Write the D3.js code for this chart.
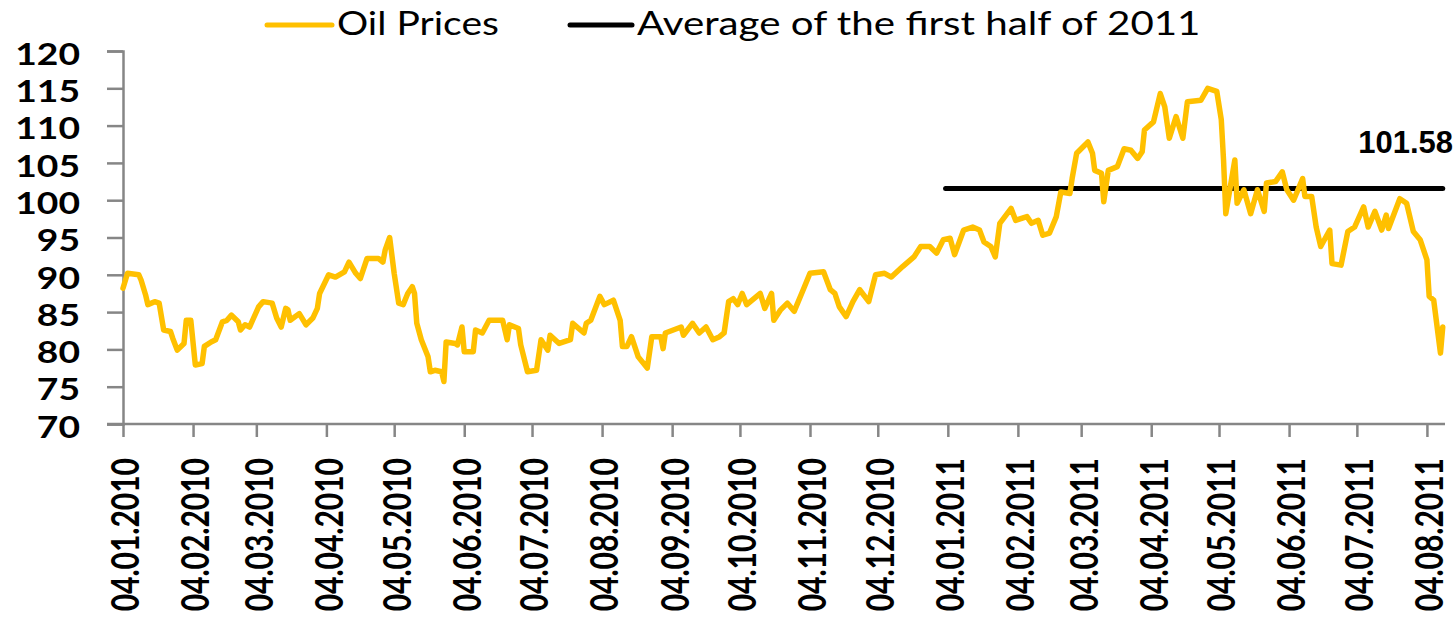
<!DOCTYPE html>
<html>
<head>
<meta charset="utf-8">
<script src="https://cdn.jsdelivr.net/npm/d3@7"></script>
<style>
body { margin: 0; background: #fff; }
</style>
</head>
<body>
<div class="chart"></div>
<script>
// daily oil prices
var dates = [
  "2010-01-04","2010-01-06","2010-01-11","2010-01-12","2010-01-14","2010-01-15","2010-01-18","2010-01-20",
  "2010-01-22","2010-01-25","2010-01-26","2010-01-28","2010-01-31","2010-02-01","2010-02-03","2010-02-05",
  "2010-02-08","2010-02-09","2010-02-12","2010-02-14","2010-02-17","2010-02-19","2010-02-21","2010-02-24",
  "2010-02-25","2010-02-27","2010-03-01","2010-03-05","2010-03-07","2010-03-11","2010-03-13","2010-03-15",
  "2010-03-17","2010-03-18","2010-03-19","2010-03-23","2010-03-26","2010-03-29","2010-03-31","2010-04-01",
  "2010-04-05","2010-04-08","2010-04-12","2010-04-14","2010-04-17","2010-04-19","2010-04-22","2010-04-27",
  "2010-04-29","2010-04-30","2010-05-02","2010-05-04","2010-05-06","2010-05-08","2010-05-10","2010-05-12",
  "2010-05-13","2010-05-14","2010-05-16","2010-05-19","2010-05-20","2010-05-22","2010-05-25","2010-05-26",
  "2010-05-27","2010-05-31","2010-06-01","2010-06-03","2010-06-04","2010-06-08","2010-06-09","2010-06-12",
  "2010-06-15","2010-06-21","2010-06-23","2010-06-24","2010-06-28","2010-06-29","2010-07-02","2010-07-06",
  "2010-07-08","2010-07-11","2010-07-12","2010-07-16","2010-07-21","2010-07-22","2010-07-27","2010-07-28",
  "2010-07-30","2010-08-03","2010-08-05","2010-08-09","2010-08-12","2010-08-13","2010-08-15","2010-08-17",
  "2010-08-20","2010-08-24","2010-08-26","2010-08-30","2010-08-31","2010-09-01","2010-09-08","2010-09-09",
  "2010-09-13","2010-09-16","2010-09-19","2010-09-22","2010-09-25","2010-09-27","2010-09-29","2010-10-01",
  "2010-10-03","2010-10-05","2010-10-07","2010-10-13","2010-10-15","2010-10-18","2010-10-19","2010-10-22",
  "2010-10-25","2010-10-28","2010-11-01","2010-11-04","2010-11-10","2010-11-13","2010-11-15","2010-11-17",
  "2010-11-20","2010-11-23","2010-11-26","2010-11-30","2010-12-03","2010-12-07","2010-12-10","2010-12-15",
  "2010-12-20","2010-12-23","2010-12-27","2010-12-30","2011-01-02","2011-01-05","2011-01-07","2011-01-11",
  "2011-01-15","2011-01-18","2011-01-20","2011-01-23","2011-01-25","2011-01-27","2011-02-01","2011-02-03",
  "2011-02-08","2011-02-10","2011-02-13","2011-02-15","2011-02-18","2011-02-21","2011-02-23","2011-02-27",
  "2011-02-28","2011-03-02","2011-03-07","2011-03-09","2011-03-10","2011-03-13","2011-03-14","2011-03-16",
  "2011-03-20","2011-03-23","2011-03-26","2011-03-29","2011-03-31","2011-04-01","2011-04-05","2011-04-08",
  "2011-04-10","2011-04-12","2011-04-15","2011-04-18","2011-04-20","2011-04-26","2011-04-29","2011-05-03",
  "2011-05-05","2011-05-06","2011-05-07","2011-05-09","2011-05-11","2011-05-12","2011-05-15","2011-05-18",
  "2011-05-21","2011-05-24","2011-05-25","2011-05-29","2011-06-01","2011-06-03","2011-06-06","2011-06-10",
  "2011-06-11","2011-06-14","2011-06-16","2011-06-18","2011-06-22","2011-06-23","2011-06-27","2011-06-30",
  "2011-07-03","2011-07-07","2011-07-09","2011-07-12","2011-07-15","2011-07-17","2011-07-18","2011-07-23",
  "2011-07-26","2011-07-29","2011-08-01","2011-08-04","2011-08-05","2011-08-07","2011-08-10","2011-08-11"
];
var prices = [
  88.2, 90.2, 90.0, 89.3, 87.3, 86.0, 86.4, 86.2,
  82.6, 82.4, 81.5, 79.9, 80.8, 83.9, 83.9, 77.9,
  78.1, 80.4, 81.0, 81.3, 83.7, 83.9, 84.6, 83.7,
  82.6, 83.3, 83.0, 85.7, 86.4, 86.2, 84.2, 83.0,
  85.5, 85.3, 83.9, 84.8, 83.3, 84.2, 85.5, 87.5,
  90.0, 89.7, 90.4, 91.7, 90.2, 89.5, 92.2, 92.2,
  91.7, 93.3, 95.0, 90.2, 86.2, 86.0, 87.5, 88.4,
  87.5, 83.5, 81.3, 79.0, 77.0, 77.2, 77.0, 75.7,
  81.0, 80.8, 80.6, 83.0, 79.7, 79.7, 82.6, 82.2,
  83.9, 83.9, 81.3, 83.3, 82.8, 80.6, 77.0, 77.2,
  81.3, 79.9, 81.9, 80.8, 81.3, 83.5, 82.2, 83.5,
  83.9, 87.1, 86.0, 86.6, 83.9, 80.4, 80.4, 81.7,
  79.0, 77.5, 81.7, 81.7, 80.1, 82.2, 83.0, 81.9,
  83.5, 82.2, 83.0, 81.3, 81.7, 82.2, 86.4, 86.8,
  86.0, 87.5, 86.0, 87.5, 85.5, 87.5, 83.9, 85.3,
  86.2, 85.1, 88.0, 90.2, 90.4, 88.0, 87.5, 85.7,
  84.4, 86.4, 88.0, 86.4, 90.0, 90.2, 89.7, 91.1,
  92.4, 93.8, 93.8, 92.9, 94.7, 94.9, 92.7, 96.0,
  96.4, 96.0, 94.4, 93.8, 92.4, 96.9, 98.9, 97.3,
  97.8, 96.9, 97.3, 95.3, 95.6, 97.8, 101.1, 100.9,
  102.9, 106.3, 107.8, 106.3, 104.0, 103.6, 99.8, 104.0,
  104.5, 106.9, 106.7, 105.6, 106.5, 109.4, 110.5, 114.3,
  112.5, 108.3, 111.2, 108.3, 113.2, 113.4, 115.0, 114.6,
  110.8, 105.4, 98.2, 101.8, 105.4, 99.6, 101.4, 98.2,
  101.4, 98.5, 102.3, 102.5, 103.8, 101.4, 100.0, 102.9,
  100.5, 100.5, 96.4, 93.8, 96.0, 91.5, 91.3, 95.8,
  96.4, 99.1, 96.4, 98.5, 96.0, 98.0, 96.2, 100.2,
  99.6, 95.8, 94.7, 92.0, 87.1, 86.6, 79.5, 83.0
];
var seriesNames = ["Oil Prices", "Average of the first half of 2011"];
var avgValue = 101.58;
var avgStart = "2011-01-03";
var yTicks = [70, 75, 80, 85, 90, 95, 100, 105, 110, 115, 120];
var xTickDates = [
  "2010-01-04","2010-02-04","2010-03-04","2010-04-04","2010-05-04","2010-06-04","2010-07-04",
  "2010-08-04","2010-09-04","2010-10-04","2010-11-04","2010-12-04","2011-01-04","2011-02-04",
  "2011-03-04","2011-04-04","2011-05-04","2011-06-04","2011-07-04","2011-08-04"
];
var xDomain = ["2010-01-04", "2011-08-12"];

var parseDate = d3.timeParse("%Y-%m-%d");
var fmt = d3.timeFormat("%d.%m.%Y");
var data = dates.map(function(d, i) { return { date: parseDate(d), value: prices[i] }; });

var width = 1456, height = 636;
var axisColor = "#868686";
var oilColor = "#FFC000";

var svg = d3.select(".chart").append("svg")
    .attr("width", width)
    .attr("height", height);

var x = d3.scaleTime()
    .domain(xDomain.map(parseDate))
    .range([123, 1445]);

var y = d3.scaleLinear()
    .domain([70, 120])
    .range([424, 51]);

// y axis
var yAxis = svg.append("g")
    .attr("transform", "translate(123,0)")
    .call(d3.axisLeft(y).tickValues(yTicks).tickSize(16).tickPadding(0).tickFormat(d3.format("d")));
yAxis.select(".domain").attr("stroke", axisColor).attr("stroke-width", 2.5);
yAxis.selectAll(".tick line").attr("stroke", axisColor).attr("stroke-width", 2.5);
yAxis.selectAll(".tick text")
    .attr("x", null)
    .attr("dy", null)
    .attr("dominant-baseline", "central")
    .attr("text-anchor", "end")
    .attr("font-family", "Lato")
    .attr("font-weight", "bold")
    .attr("font-size", 31)
    .attr("fill", "#000")
    .attr("transform", "translate(-43,1) scale(1.2,1)");

// x axis
var xAxis = svg.append("g")
    .attr("transform", "translate(0,424)")
    .call(d3.axisBottom(x).tickValues(xTickDates.map(parseDate)).tickSize(13).tickFormat(fmt));
xAxis.select(".domain").attr("stroke", axisColor).attr("stroke-width", 2.5)
    .attr("d", "M107,0H" + x.range()[1]);
xAxis.selectAll(".tick line").attr("stroke", axisColor).attr("stroke-width", 2.5);
xAxis.selectAll(".tick text")
    .attr("x", null)
    .attr("y", null)
    .attr("dy", null)
    .attr("text-anchor", "end")
    .attr("dominant-baseline", "central")
    .attr("font-family", "Lato")
    .attr("font-weight", "bold")
    .attr("font-size", 30)
    .attr("fill", "#000")
    .attr("transform", "translate(1,34) scale(1.25,1) rotate(-90)");

// average line
svg.append("line")
    .attr("x1", x(parseDate(avgStart)))
    .attr("x2", x(data[data.length - 1].date))
    .attr("y1", y(avgValue))
    .attr("y2", y(avgValue))
    .attr("stroke", "#000")
    .attr("stroke-width", 5)
    .attr("stroke-linecap", "round");

// oil price line
var line = d3.line()
    .x(function(d) { return x(d.date); })
    .y(function(d) { return y(d.value); });

svg.append("path")
    .datum(data)
    .attr("fill", "none")
    .attr("stroke", oilColor)
    .attr("stroke-width", 5.5)
    .attr("stroke-linejoin", "round")
    .attr("stroke-linecap", "round")
    .attr("d", line);

// value label
svg.append("text")
    .attr("x", 1453)
    .attr("y", 153)
    .attr("text-anchor", "end")
    .attr("font-family", "Liberation Sans")
    .attr("font-weight", "bold")
    .attr("font-size", 31)
    .text(d3.format(".2f")(avgValue));

// legend
var legendItems = [
  { name: seriesNames[0], color: oilColor, x1: 267, x2: 332, sx: 1.22 },
  { name: seriesNames[1], color: "#000", x1: 570, x2: 632, sx: 1.26 }
];
var legend = svg.append("g").selectAll("g")
    .data(legendItems)
    .enter().append("g");
legend.append("line")
    .attr("x1", function(d) { return d.x1; })
    .attr("x2", function(d) { return d.x2; })
    .attr("y1", 25).attr("y2", 25)
    .attr("stroke", function(d) { return d.color; })
    .attr("stroke-width", 5)
    .attr("stroke-linecap", "round");
legend.append("text")
    .attr("transform", function(d) { return "translate(" + (d.x2 + 5) + ",35) scale(" + d.sx + ",1)"; })
    .attr("font-family", "Lato")
    .attr("font-size", 32)
    .attr("fill", "#000")
    .text(function(d) { return d.name; });
</script>
</body>
</html>
